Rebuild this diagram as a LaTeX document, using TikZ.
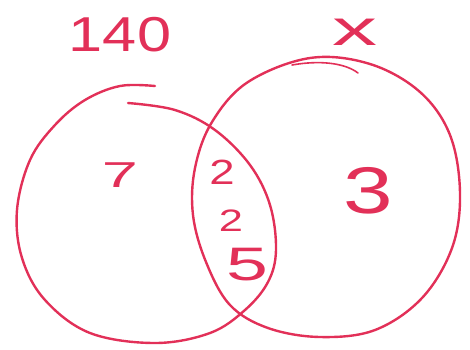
\documentclass[tikz,border=0pt]{standalone}
\usepackage{fontspec}
\setmainfont{Liberation Sans}
\definecolor{ink}{RGB}{226,48,88}
\begin{document}
\begin{tikzpicture}[x=1pt,y=-1pt,
  ink/.style={draw=ink,line width=2.4pt,line cap=round,line join=round},
  num/.style={text=ink,inner sep=0pt,anchor=center}]
\useasboundingbox (0,0) rectangle (470,349);
% left set (open hand-drawn loop)
\draw[ink] plot[smooth,tension=0.6] coordinates {
  (155,86) (120,86) (85,100) (55,125) (30,160) (17,210) (22,258)
  (45,300) (90,333) (155,343) (210,333) (245,310) (268,282) (276,250)
  (270,205) (250,165) (215,130) (175,110) (128,103)};
% right set
\draw[ink] plot[smooth cycle,tension=0.6] coordinates {
  (310,58) (370,64) (420,92) (450,135) (460,193) (452,248) (422,298)
  (375,330) (320,337) (268,328) (230,305) (206,262) (193,215) (195,168)
  (212,122) (248,82)};
\draw[ink,line width=1.6pt] (292,65) .. controls (320,60) and (345,63) .. (358,73);
% labels
\node[num,font=\fontsize{49}{49}\selectfont,xscale=1.25] (a) at (120,35) {140};
\node[num,font=\fontsize{50}{50}\selectfont,xscale=1.8] (b) at (355,32) {x};
\node[num,font=\fontsize{36}{36}\selectfont,xscale=1.8] (c) at (120,175) {7};
\node[num,font=\fontsize{35}{35}\selectfont,xscale=1.3] (d) at (222,172) {2};
\node[num,font=\fontsize{31}{31}\selectfont,xscale=1.4] (e) at (231,221) {2};
\node[num,font=\fontsize{47}{47}\selectfont,xscale=1.6] (f) at (247,265) {5};
\node[num,font=\fontsize{66}{66}\selectfont,xscale=1.35] (g) at (368,191) {3};
\end{tikzpicture}
\end{document}
